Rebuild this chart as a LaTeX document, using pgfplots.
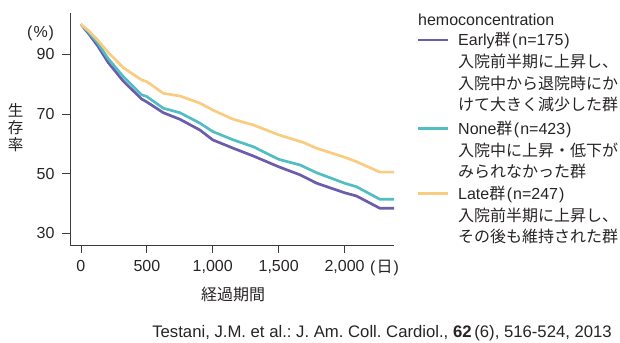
\documentclass[border=0pt]{standalone}
\usepackage{fontspec}
\setmainfont{Liberation Sans}
\newfontfamily\jp{Noto Sans CJK JP}
\usepackage{pgfplots}
\pgfplotsset{compat=1.18}
\definecolor{earlyc}{RGB}{108,92,172}
\definecolor{nonec}{RGB}{82,190,194}
\definecolor{latec}{RGB}{250,204,128}
\definecolor{textc}{RGB}{40,36,36}
\definecolor{axisc}{RGB}{60,60,60}
\newcommand{\fs}{\fontsize{16bp}{19bp}\selectfont}
\frenchspacing
\begin{document}
\begin{tikzpicture}
\useasboundingbox (0,0) rectangle (620bp,343bp);
\begin{axis}[
  at={(70bp,98bp)}, anchor=south west,
  scale only axis, width=324bp, height=232bp,
  xmin=-83, xmax=2375, ymin=26.1, ymax=103.8,
  axis x line*=bottom, axis y line*=left,
  axis line style={draw=axisc, line width=0.8bp},
  tick style={draw=axisc, line width=0.8bp},
  tick align=outside, major tick length=8bp,
  xtick={0,500,1000,1500,2000},
  xticklabels={0,500,{1,000},{1,500},{2,000}},
  ytick={30,50,70,90},
  /pgf/number format/assume math mode=true,
  ticklabel style={font=\fs, text=textc},
  xticklabel style={yshift=-4bp},
  yticklabel style={xshift=-4bp},
  clip=false,
]
\addplot[earlyc, line width=2.7bp] coordinates {
(0,100) (60,96.8) (130,92.6) (207,87.2) (321,81) (460,75) (500,74) (625,70.4) (751,68.2) (903,64.6) (1000,61.3) (1156,58.5) (1308,55.9) (1500,52.3) (1662,49.6) (1788,46.8) (2000,43.6) (2091,42.5) (2268,38.4) (2375,38.4)};
\addplot[nonec, line width=2.7bp] coordinates {
(0,100) (60,97.3) (130,93.6) (207,88.5) (321,82.5) (460,76.4) (500,75.8) (625,71.9) (751,70.4) (903,66.9) (1000,64.1) (1156,61.3) (1308,59.0) (1500,54.8) (1662,52.9) (1788,50.3) (2000,46.8) (2091,45.6) (2268,41.4) (2375,41.4)};
\addplot[latec, line width=2.7bp] coordinates {
(0,100) (60,97.8) (130,94.6) (207,90.6) (321,85.5) (460,81.4) (500,80.8) (625,76.9) (751,76.0) (903,73.6) (1000,71.3) (1156,68.2) (1308,66.3) (1500,63.0) (1690,60.4) (1788,58.5) (2000,55.5) (2091,54.0) (2268,50.5) (2375,50.5)};
\end{axis}
% axis texts
\node[text=textc, font=\fs, anchor=west, inner sep=0pt] at (27bp,310bp) {(\kern1bp\%\kern1bp)};
\node[text=textc, font=\fs, anchor=west, inner sep=0pt] at (370bp,75bp) {(\kern1bp{\jp 日}\kern1bp)};
\node[text=textc, font=\jp\fs, anchor=center, inner sep=0pt] at (233bp,48.5bp) {経過期間};
\node[text=textc, font=\jp\fontsize{15.5bp}{17bp}\selectfont, align=center, inner sep=0pt] at (15.5bp,215bp) {生\\存\\率};
% legend
\node[text=textc, font=\fs, anchor=west, inner sep=0pt] at (418bp,323bp) {hemoconcentration};
\draw[earlyc, line width=2.7bp] (418bp,303bp) -- (448bp,303bp);
\draw[nonec, line width=2.7bp] (418bp,214.7bp) -- (448bp,214.7bp);
\draw[latec, line width=2.7bp] (418bp,149.7bp) -- (448bp,149.7bp);
\begin{scope}[every node/.style={text=textc, font=\fs, anchor=west, inner sep=0pt}]
\node at (458bp,302.3bp) {Early{\jp 群}\kern1.5bp(\kern1bp n=175\kern1bp)};
\node at (458bp,281.3bp) {\jp 入院前半期に上昇し、};
\node at (458bp,259.7bp) {\jp 入院中から退院時にか};
\node at (458bp,239bp) {\jp けて大きく減少した群};
\node at (458bp,214bp) {None{\jp 群}\kern1.5bp(\kern1bp n=423\kern1bp)};
\node at (458bp,193bp) {\jp 入院中に上昇・低下が};
\node at (458bp,171.3bp) {\jp みられなかった群};
\node at (458bp,149bp) {Late{\jp 群}\kern1.5bp(\kern1bp n=247\kern1bp)};
\node at (458bp,128bp) {\jp 入院前半期に上昇し、};
\node at (458bp,106.3bp) {\jp その後も維持された群};
\end{scope}
\node[text=textc, font=\fontsize{16.7bp}{19bp}\selectfont, anchor=east, inner sep=0pt] at (612bp,10bp) {Testani, J.M. et al.: J. Am. Coll. Cardiol., \textbf{62}\,(6), 516-524, 2013};
\end{tikzpicture}
\end{document}
